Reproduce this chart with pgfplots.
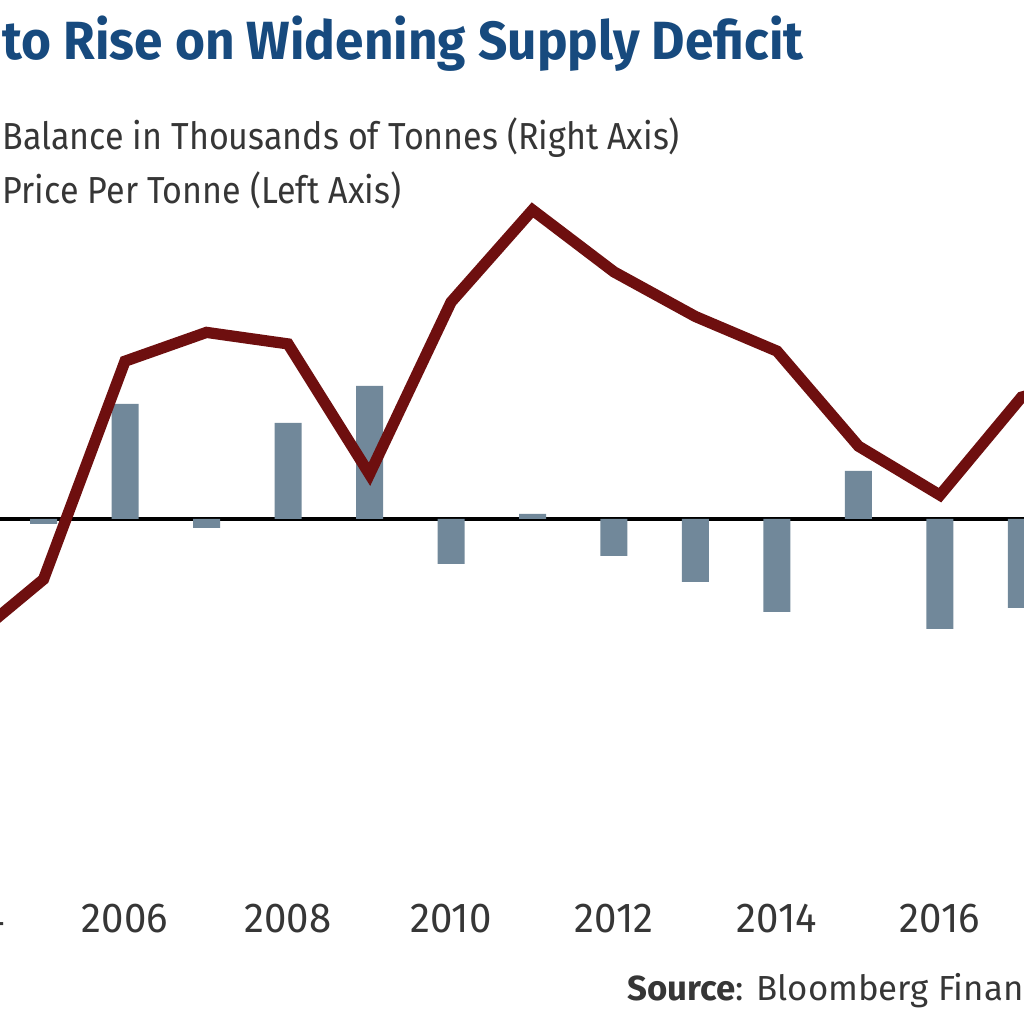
\documentclass[border=0pt]{standalone}
\usepackage{fontspec}
\setmainfont{Fira Sans}[FakeStretch=0.905]
\newfontfamily\titlefont{Fira Sans}[FakeStretch=0.955]
\newfontfamily\tickfont{Fira Sans}[FakeStretch=0.96]
\newfontfamily\srcfont{Fira Sans}[FakeStretch=1.0]
\usepackage{pgfplots}
\pgfplotsset{compat=1.18}
\definecolor{titleblue}{HTML}{174A7E}
\definecolor{txtgray}{HTML}{363636}
\definecolor{barcol}{HTML}{71889A}
\definecolor{linecol}{HTML}{6E0F0F}
\begin{document}
\begin{tikzpicture}
\useasboundingbox (0,0) rectangle (10.24,10.24);
\clip (0,0) rectangle (10.24,10.24);
% balance bars (right axis)
\begin{axis}[
  at={(-1cm,1.34cm)}, anchor=south west,
  scale only axis, width=12.24cm, height=8.90cm,
  xmin=2003.239, xmax=2018.258,
  ymin=-1113, ymax=1557,
  axis line style={draw=none},
  ytick=\empty,
  xtick={2004,2006,2008,2010,2012,2014,2016},
  xticklabels={2004,2006,2008,2010,2012,2014,2016},
  major tick length=0pt,
  xticklabel style={anchor=base, yshift=-0.427cm, font=\tickfont\fontsize{11.9}{12}\selectfont, text=txtgray},
  extra y ticks={0}, extra y tick labels={},
  extra y tick style={grid=major, major grid style={black, line width=1.1pt}},
  ybar, bar width=0.27cm,
]
\addplot[fill=barcol, draw=none] coordinates {
(2005,-15) (2006,345) (2007,-27) (2008,288) (2009,399) (2010,-135)
(2011,15) (2012,-111) (2013,-189) (2014,-279) (2015,144) (2016,-330) (2017,-267)
};
\end{axis}
% price line (left axis)
\begin{axis}[
  at={(-1cm,1.34cm)}, anchor=south west,
  scale only axis, width=12.24cm, height=8.90cm,
  xmin=2003.239, xmax=2018.258,
  ymin=-624.4, ymax=11736.7,
  axis lines=none,
]
\addplot[linecol, line width=3.2pt, line join=miter] coordinates {
(2004,2750) (2005,3690) (2006,6720) (2007,7120) (2008,6960) (2009,5150)
(2010,7540) (2011,8820) (2012,7960) (2013,7340) (2014,6860) (2015,5540)
(2016,4860) (2017,6220) (2018,6530)
};
\end{axis}
% title and legend texts
\node[anchor=base west, text=titleblue, font=\titlefont\bfseries\fontsize{15.3}{16}\selectfont, inner sep=0pt] at (0.02,9.64) {to Rise on Widening Supply Deficit};
\node[anchor=base west, text=txtgray, font=\fontsize{10.7}{12}\selectfont, inner sep=0pt] at (0.02,8.745) {Balance in Thousands of Tonnes (Right Axis)};
\node[anchor=base west, text=txtgray, font=\fontsize{10.7}{12}\selectfont, inner sep=0pt] at (0.02,8.20) {Price Per Tonne (Left Axis)};
\node[anchor=base west, text=txtgray, font=\srcfont\fontsize{9.9}{11}\selectfont, inner sep=0pt] at (6.27,0.23) {\textbf{Source}: Bloomberg Finance LP};
\end{tikzpicture}
\end{document}
